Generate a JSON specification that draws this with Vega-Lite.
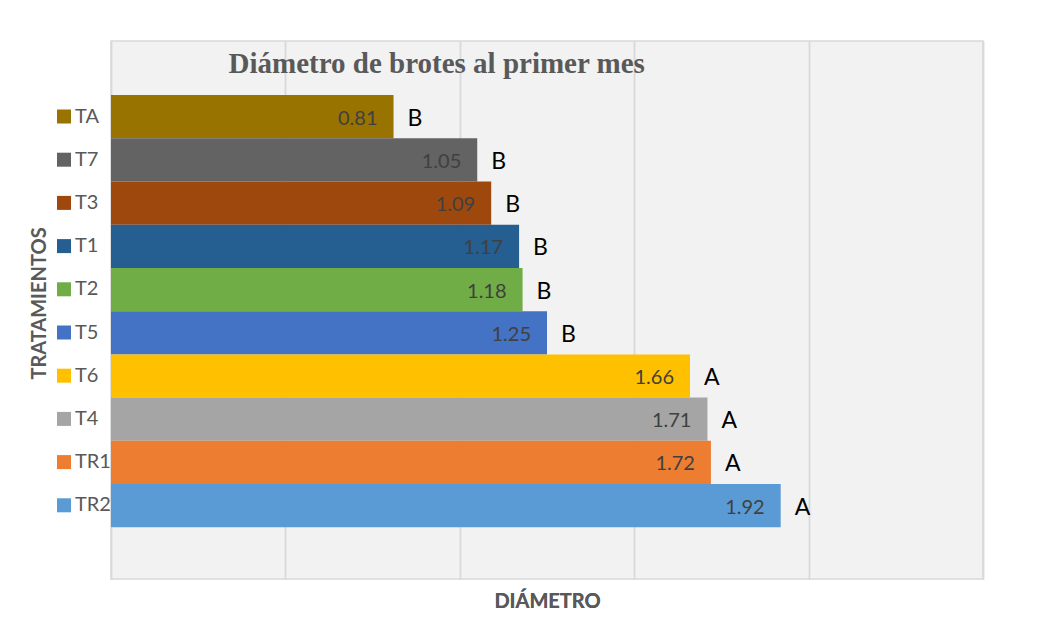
{
  "$schema": "https://vega.github.io/schema/vega-lite/v6.json",
  "autosize": "none",
  "width": 872,
  "height": 538,
  "padding": {"left": 111, "top": 41, "right": 64, "bottom": 64},
  "background": "white",
  "config": {
    "font": "Lato",
    "view": {"stroke": "#d9d9d9", "strokeWidth": 1.5, "fill": "#f2f2f2"}
  },
  "data": {
    "values": [
      {"trat": "TA", "diam": 0.81, "letra": "B"},
      {"trat": "T7", "diam": 1.05, "letra": "B"},
      {"trat": "T3", "diam": 1.09, "letra": "B"},
      {"trat": "T1", "diam": 1.17, "letra": "B"},
      {"trat": "T2", "diam": 1.18, "letra": "B"},
      {"trat": "T5", "diam": 1.25, "letra": "B"},
      {"trat": "T6", "diam": 1.66, "letra": "A"},
      {"trat": "T4", "diam": 1.71, "letra": "A"},
      {"trat": "TR1", "diam": 1.72, "letra": "A"},
      {"trat": "TR2", "diam": 1.92, "letra": "A"}
    ]
  },
  "encoding": {
    "y": {
      "field": "trat",
      "type": "nominal",
      "scale": {
        "domain": [" ", "TA", "T7", "T3", "T1", "T2", "T5", "T6", "T4", "TR1", "TR2", "  "],
        "paddingInner": 0,
        "paddingOuter": 0.225,
        "align": 0.56
      },
      "axis": {
        "labels": false,
        "ticks": false,
        "domain": false,
        "grid": false,
        "title": "TRATAMIENTOS",
        "titleFont": "Lato",
        "titleFontWeight": "bold",
        "titleFontSize": 20,
        "titleColor": "#595959",
        "titleX": -66,
        "titleY": 262,
        "titleAngle": -90,
        "titleAlign": "center",
        "titleBaseline": "alphabetic"
      }
    },
    "x": {
      "field": "diam",
      "type": "quantitative",
      "scale": {"domain": [0, 2.5], "nice": false, "zero": true},
      "axis": {
        "orient": "bottom",
        "values": [0, 0.5, 1, 1.5, 2, 2.5],
        "labels": false,
        "ticks": false,
        "domain": false,
        "grid": true,
        "gridColor": "#d9d9d9",
        "gridWidth": 1.5,
        "title": "DIÁMETRO",
        "titleFont": "Lato",
        "titleFontWeight": "bold",
        "titleFontSize": 20,
        "titleColor": "#595959",
        "titleX": 436,
        "titleY": 28,
        "titleAlign": "center",
        "titleBaseline": "alphabetic"
      }
    }
  },
  "resolve": {"axis": {"x": "independent"}},
  "layer": [
    {
      "mark": {"type": "bar", "opacity": 1},
      "encoding": {
        "color": {
          "field": "trat",
          "type": "nominal",
          "scale": {
            "domain": ["TA", "T7", "T3", "T1", "T2", "T5", "T6", "T4", "TR1", "TR2"],
            "range": ["#997300", "#636363", "#9e480e", "#255e91", "#70ad47", "#4472c4", "#ffc000", "#a5a5a5", "#ed7d31", "#5b9bd5"]
          },
          "legend": {
            "orient": "none",
            "legendX": -57,
            "legendY": 65.5,
            "title": null,
            "padding": 0,
            "symbolType": "square",
            "symbolSize": 196,
            "symbolStrokeWidth": 0,
            "symbolOpacity": 1,
            "labelFont": "Lato",
            "labelFontSize": 20,
            "labelColor": "#595959",
            "labelOffset": 1,
            "rowPadding": 23.2
          }
        }
      }
    },
    {
      "mark": {"type": "text", "align": "right", "baseline": "middle", "dx": -16, "dy": 2, "fontSize": 20, "color": "#404040"},
      "encoding": {"text": {"field": "diam", "type": "quantitative", "format": ".2f"}}
    },
    {
      "mark": {"type": "text", "align": "left", "baseline": "middle", "dx": 14, "dy": 2, "fontSize": 23, "color": "#000000"},
      "encoding": {
        "text": {"field": "letra", "type": "nominal"},
        "x": {
          "field": "diam",
          "type": "quantitative",
          "scale": {"domain": [0, 2.5], "nice": false, "zero": true},
          "axis": {
            "orient": "top",
            "labels": false,
            "ticks": false,
            "domain": false,
            "grid": false,
            "title": "Diámetro de brotes al primer mes",
            "titleFont": "Liberation Serif",
            "titleFontWeight": "bold",
            "titleFontSize": 29,
            "titleColor": "#595959",
            "titleX": 117,
            "titleY": 31,
            "titleAlign": "left",
            "titleBaseline": "alphabetic",
            "titleLimit": 0
          }
        }
      }
    }
  ]
}
